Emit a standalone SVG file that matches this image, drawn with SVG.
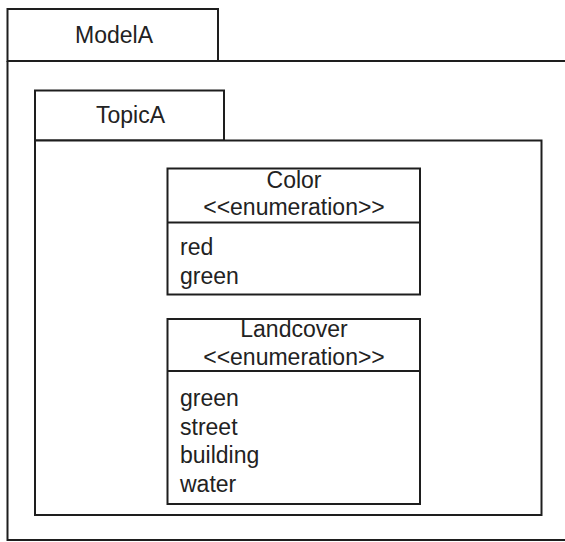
<svg xmlns="http://www.w3.org/2000/svg" width="565" height="542" viewBox="0 0 565 542">
<style>
.ln{fill:none;stroke:#1e1e1e;stroke-width:2}
.bx{fill:#fff;stroke:#1e1e1e;stroke-width:2}
text{font-family:"Liberation Sans",Arial,sans-serif;font-size:23px;fill:#222}
.c{text-anchor:middle}
</style>
<rect width="565" height="542" fill="#fff"/>
<g id="ModelA">
<rect class="bx" x="7.5" y="9" width="210.5" height="52"/>
<path class="ln" d="M7.5,61 H570 M7.5,61 V540 H570"/>
<text class="c" x="114" y="43">ModelA</text>
</g>
<g id="TopicA">
<rect class="bx" x="35" y="90.5" width="189" height="50"/>
<rect class="bx" x="35" y="140.5" width="506.5" height="374.5"/>
<text class="c" x="130.5" y="123">TopicA</text>
</g>
<g id="Color">
<rect class="bx" x="167.5" y="168.5" width="252.5" height="126"/>
<line class="ln" x1="167.5" y1="222.5" x2="420" y2="222.5"/>
<text class="c" x="294" y="188">Color</text>
<text class="c" x="294" y="215">&lt;&lt;enumeration&gt;&gt;</text>
<text x="180" y="255">red</text>
<text x="180" y="284">green</text>
</g>
<g id="Landcover">
<rect class="bx" x="167.5" y="319" width="252.5" height="185"/>
<line class="ln" x1="167.5" y1="371" x2="420" y2="371"/>
<text class="c" x="294" y="337">Landcover</text>
<text class="c" x="294" y="365">&lt;&lt;enumeration&gt;&gt;</text>
<text x="180" y="406">green</text>
<text x="180" y="435">street</text>
<text x="180" y="463">building</text>
<text x="180" y="492">water</text>
</g>
<g id="connectors"/>
</svg>
